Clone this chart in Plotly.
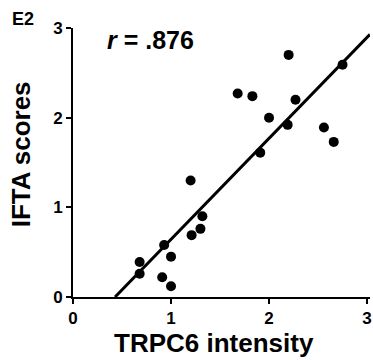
import plotly.graph_objects as go

trpc6 = [2.20, 2.75, 1.68, 1.83, 2.27, 2.00, 2.19, 2.56, 2.66, 1.91,
         1.20, 1.32, 1.30, 1.21, 0.93, 1.00, 0.68, 0.68, 0.91, 1.00]
ifta = [2.70, 2.59, 2.27, 2.24, 2.20, 2.00, 1.92, 1.89, 1.73, 1.61,
        1.30, 0.90, 0.76, 0.69, 0.58, 0.45, 0.39, 0.26, 0.22, 0.12]
fit_slope = 1.126
fit_intercept = -0.483
fit_x = [0.429, 3.03]
fit_y = [fit_slope * v + fit_intercept for v in fit_x]
x_ticks = [0, 1, 2, 3]
y_ticks = [0, 1, 2, 3]

FONT = "Arial, Liberation Sans, sans-serif"
PW, PH = 299, 269  # plot area size in px

fig = go.Figure()
fig.add_trace(go.Scatter(x=fit_x, y=fit_y, mode="lines",
                         line=dict(color="black", width=3), showlegend=False))
fig.add_trace(go.Scatter(x=trpc6, y=ifta, mode="markers",
                         marker=dict(color="black", size=10), showlegend=False,
                         cliponaxis=False))

axis_common = dict(showgrid=False, zeroline=False, showline=True, linecolor="black",
                   linewidth=2, ticks="outside", ticklen=5, tickwidth=2, tickcolor="black",
                   ticklabeloverflow="allow",
                   tickfont=dict(family=FONT, size=17, color="black", weight="bold"))

fig.update_layout(
    width=373, height=360,
    margin=dict(l=73, r=1, t=28, b=63),
    plot_bgcolor="white", paper_bgcolor="white",
    xaxis=dict(range=[0, 3.03], tickvals=x_ticks, **axis_common),
    yaxis=dict(range=[0, 3.0], tickvals=y_ticks, **axis_common),
    annotations=[
        dict(text="TRPC6 intensity", xref="paper", yref="paper",
             x=(215 - 73) / PW, y=-(343 - 297) / PH, xanchor="center", yanchor="middle",
             showarrow=False,
             font=dict(family=FONT, size=26, color="black", weight="bold")),
        dict(text="IFTA scores", xref="paper", yref="paper", textangle=-90,
             x=(21 - 73) / PW, y=(297 - 154) / PH, xanchor="center", yanchor="middle",
             showarrow=False,
             font=dict(family=FONT, size=26, color="black", weight="bold")),
        dict(text="E2", xref="paper", yref="paper", x=(10 - 73) / PW, y=1.0 + 9 / PH,
             xanchor="left", yanchor="middle", showarrow=False,
             font=dict(family=FONT, size=18, color="black", weight="bold")),
        dict(text="<i>r</i> = .876", x=0.33, y=3.0, xanchor="left", yanchor="top",
             showarrow=False, yshift=4,
             font=dict(family=FONT, size=25, color="black", weight="bold")),
    ],
)
fig.write_html("out.html")
